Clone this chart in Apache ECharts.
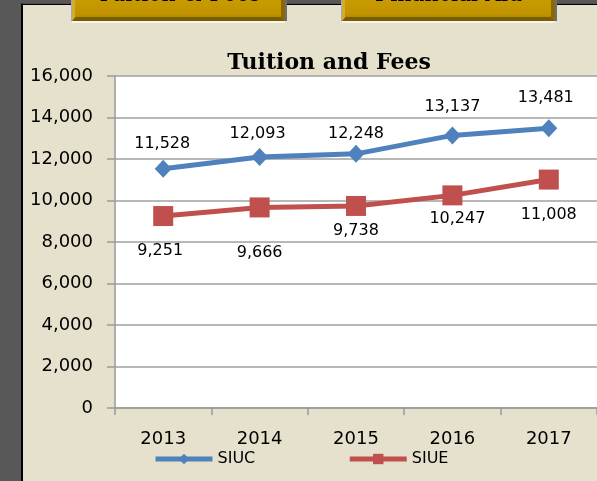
<!DOCTYPE html>
<html>
<head>
<meta charset="utf-8">
<script src="https://cdn.jsdelivr.net/npm/echarts@6/dist/echarts.min.js"></script>
<style>
html,body{margin:0;padding:0;background:#e6e1cc;}
#chart{width:597px;height:481px;}
</style>
</head>
<body>
<div id="chart"></div>
<script>
// ---- data ----
const years = ['2013', '2014', '2015', '2016', '2017'];
const siuc = [11528, 12093, 12248, 13137, 13481];
const siue = [9251, 9666, 9738, 10247, 11008];
const yTicks = { min: 0, max: 16000, interval: 2000 };
const chartTitle = 'Tuition and Fees';
const tabLabels = ['Tuition & Fees', 'Financial Aid'];

// ---- label placement (style) ----
const siucLabelShift = [[-1, -25], [-2, -23], [0, -20], [0, -29], [-3, -30]];
const siueLabelShift = [[-3, 35], [0, 45], [0, 25], [5, 23], [0, 35]];

const fmt = v => Number(v).toLocaleString('en-US');
const FONT = 'DejaVu Sans';
const BLUE = '#4f81bd', RED = '#c0504d';

function withLabels(vals, shifts) {
  return vals.map((v, i) => ({ value: v, label: { offset: shifts[i] } }));
}

function tab(x0, x1, text) {
  return {
    type: 'group',
    children: [
      { type: 'rect', shape: { x: x0, y: 21, width: x1 - x0, height: 2 }, style: { fill: '#f7f4ea' } },
      { type: 'rect', shape: { x: x0 - 1, y: 0, width: 1, height: 21 }, style: { fill: '#a8a8a8' } },
      { type: 'rect', shape: { x: x1, y: 0, width: 2, height: 21 }, style: { fill: '#6e6e6e' } },
      { type: 'rect', shape: { x: x0, y: 0, width: x1 - x0, height: 21 },
        style: { fill: new echarts.graphic.LinearGradient(0, 0, 0, 1, [
          { offset: 0, color: '#c99b02' }, { offset: 0.7, color: '#bf9200' }, { offset: 1, color: '#9c7700' }]) } },
      { type: 'polygon', shape: { points: [[x0, 21], [x1, 21], [x1 - 4, 17], [x0 + 4, 17]] }, style: { fill: '#7a5d00' } },
      { type: 'polygon', shape: { points: [[x1, 0], [x1, 21], [x1 - 4, 17], [x1 - 4, 0]] }, style: { fill: '#8a6900' } },
      { type: 'polygon', shape: { points: [[x0, 0], [x0, 21], [x0 + 3, 17], [x0 + 3, 0]] }, style: { fill: '#d4ab30' } },
      { type: 'text', x: (x0 + x1) / 2, y: -16, z: 10,
        style: { text: text, fill: '#000', font: '22px "DejaVu Serif"', textAlign: 'center', textVerticalAlign: 'top' } }
    ]
  };
}

const chart = echarts.init(document.getElementById('chart'), null, { renderer: 'canvas' });
chart.setOption({
  backgroundColor: '#e6e1cc',
  animation: false,
  graphic: [
    { type: 'rect', shape: { x: 0, y: 0, width: 21, height: 481 }, style: { fill: '#585858' } },
    { type: 'rect', shape: { x: 0, y: 0, width: 597, height: 3.5 }, style: { fill: '#585858' } },
    { type: 'rect', shape: { x: 21, y: 3.5, width: 2, height: 478 }, style: { fill: '#000' } },
    { type: 'rect', shape: { x: 21, y: 3.5, width: 576, height: 1.5 }, style: { fill: '#000' } },
    tab(72, 285, tabLabels[0]),
    tab(342, 555, tabLabels[1]),
    { type: 'text', x: 329, y: 63,
      style: { text: chartTitle, fill: '#000', font: 'bold 22px "DejaVu Serif"', textAlign: 'center', textVerticalAlign: 'middle' } }
  ],
  grid: {
    left: 115, top: 76, width: 484, height: 332,
    show: true, backgroundColor: '#ffffff', borderWidth: 0, containLabel: false
  },
  legend: {
    left: 153, top: 451, padding: 0,
    itemWidth: 57, itemHeight: 13, itemGap: 92,
    lineStyle: { width: 5 },
    textStyle: { fontFamily: FONT, fontSize: 16, color: '#000' },
    data: ['SIUC', 'SIUE']
  },
  xAxis: {
    type: 'category',
    data: years,
    boundaryGap: true,
    axisLine: { show: true, lineStyle: { color: '#999', width: 1.5 } },
    axisTick: { show: true, length: 7, lineStyle: { color: '#999', width: 1.5 } },
    axisLabel: { fontFamily: FONT, fontSize: 18, color: '#000', margin: 22 }
  },
  yAxis: {
    type: 'value',
    min: yTicks.min, max: yTicks.max, interval: yTicks.interval,
    axisLine: { show: true, lineStyle: { color: '#999', width: 1.5 } },
    axisTick: { show: true, length: 8, lineStyle: { color: '#999', width: 1.5 } },
    splitLine: { show: true, lineStyle: { color: '#a0a0a0', width: 1.5 } },
    axisLabel: { fontFamily: FONT, fontSize: 18, color: '#000', margin: 22, formatter: fmt }
  },
  series: [
    {
      name: 'SIUC', type: 'line',
      data: withLabels(siuc, siucLabelShift),
      symbol: 'diamond', symbolSize: [17, 18],
      lineStyle: { color: BLUE, width: 5, join: 'round' },
      itemStyle: { color: BLUE },
      label: { show: true, position: 'inside', fontFamily: FONT, fontSize: 16, color: '#000',
               formatter: p => fmt(p.value) }
    },
    {
      name: 'SIUE', type: 'line',
      data: withLabels(siue, siueLabelShift),
      symbol: 'rect', symbolSize: 20,
      lineStyle: { color: RED, width: 5, join: 'round' },
      itemStyle: { color: RED },
      label: { show: true, position: 'inside', fontFamily: FONT, fontSize: 16, color: '#000',
               formatter: p => fmt(p.value) }
    }
  ]
});
</script>
</body>
</html>
